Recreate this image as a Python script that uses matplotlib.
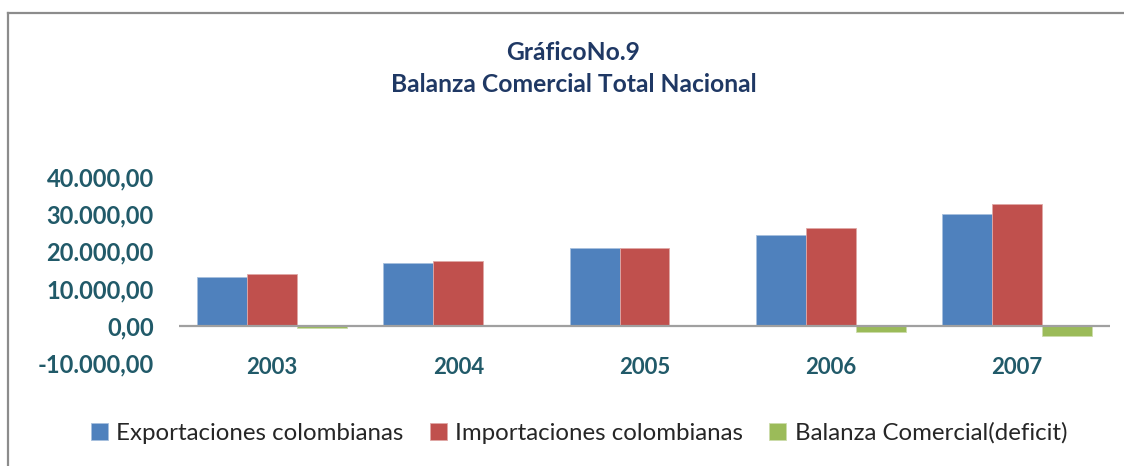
import numpy as np
import matplotlib
matplotlib.use('Agg')
import matplotlib.pyplot as plt
from matplotlib.lines import Line2D
from matplotlib.ticker import FuncFormatter

years = ['2003', '2004', '2005', '2006', '2007']
exportaciones = [13190, 16940, 20990, 24400, 29950]
importaciones = [13800, 17370, 21000, 26190, 32700]
balanza = [-500, -100, -50, -1700, -2700]
series_names = ['Exportaciones colombianas', 'Importaciones colombianas',
                'Balanza Comercial(deficit)']

plt.rcParams['font.family'] = ['Lato', 'DejaVu Sans']

blue = '#4F81BD'
red = '#C0504D'
green = '#9BBB59'
teal = '#215A69'
navy = '#1F3864'

fig = plt.figure(figsize=(11.24, 4.66), dpi=100)
W, H = 1124, 466
# axes box in pixels: x 179..1110, y 177..363 (from top)
ax = fig.add_axes([179 / W, (H - 363) / H, (1110 - 179) / W, (363 - 177) / H])

x = np.arange(len(years))
bw = 0.268
ax.bar(x - bw, exportaciones, bw, color=blue, edgecolor='#A7C0DE', linewidth=0.6,
       label=series_names[0], zorder=2)
ax.bar(x, importaciones, bw, color=red, edgecolor='#E0A8A6', linewidth=0.6,
       label=series_names[1], zorder=2)
ax.bar(x + bw, balanza, bw, color=green, edgecolor='#CDDDAC', linewidth=0.6,
       label=series_names[2], zorder=2)

ax.axhline(0, color='#A0A0A0', linewidth=1.6, zorder=3)

ax.set_xlim(-0.5, len(years) - 0.5)
ax.set_ylim(-10000, 40000)
ax.set_yticks(np.arange(-10000, 40001, 10000))


def fmt(v, pos):
    s = f'{abs(v):,.2f}'.replace(',', 'X').replace('.', ',').replace('X', '.')
    return ('-' if v < 0 else '') + s


ax.yaxis.set_major_formatter(FuncFormatter(fmt))
ax.set_xticks(x)
ax.set_xticklabels(years)

for sp in ax.spines.values():
    sp.set_visible(False)
ax.tick_params(axis='y', length=0, pad=18, labelsize=17, labelcolor=teal)
ax.tick_params(axis='x', length=0, pad=-4, labelsize=16, labelcolor=teal)
for lab in ax.get_yticklabels() + ax.get_xticklabels():
    lab.set_fontweight('bold')

fig.text(573 / W, (H - 53) / H, 'GráficoNo.9', ha='center', va='center',
         fontsize=17.7, fontweight='bold', color=navy)
fig.text(574 / W, (H - 84) / H, 'Balanza Comercial Total Nacional', ha='center',
         va='center', fontsize=17.7, fontweight='bold', color=navy)

leg = fig.legend(loc='center', bbox_to_anchor=(579 / W, (H - 433) / H), ncol=3,
                 frameon=False, fontsize=17.3, handlelength=0.7, handleheight=0.7,
                 handletextpad=0.35, columnspacing=1.1, labelcolor='#262626')

# chart border (top and left edges visible in the screenshot)
fig.add_artist(Line2D([8 / W, 8 / W], [0, (H - 13) / H], transform=fig.transFigure,
                      color='#8C8C8C', linewidth=1.6))
fig.add_artist(Line2D([8 / W, 1], [(H - 13) / H, (H - 13) / H], transform=fig.transFigure,
                      color='#8C8C8C', linewidth=1.6))

fig.savefig('out.png', dpi=100)
